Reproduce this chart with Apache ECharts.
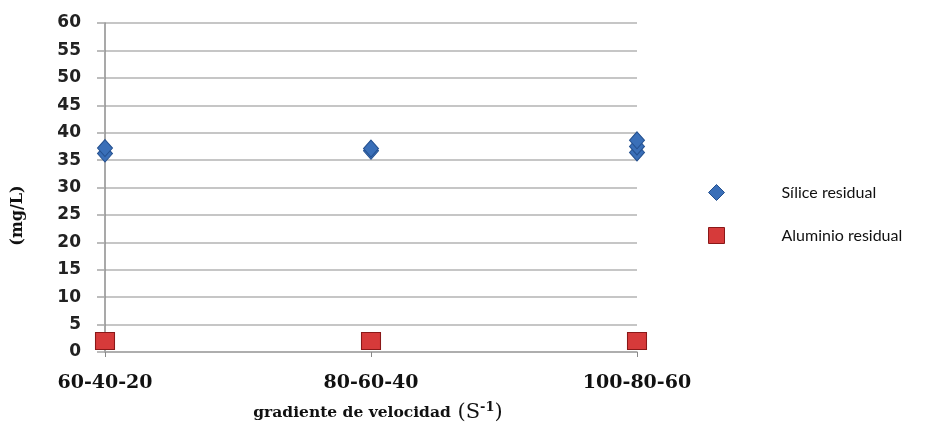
<!DOCTYPE html>
<html>
<head>
<meta charset="utf-8">
<script src="https://cdn.jsdelivr.net/npm/echarts@6/dist/echarts.min.js"></script>
<style>html,body{margin:0;padding:0;background:#fff}#c{width:934px;height:427px}</style>
</head>
<body>
<div id="c"></div>
<script>
var categories = ['60-40-20', '80-60-40', '100-80-60'];
var siliceValues = [[36.2, 37.2], [36.7, 37.1], [36.4, 37.5, 38.6]];
var aluminioValues = [2.0, 2.0, 2.0];
var yTicks = [0, 5, 10, 15, 20, 25, 30, 35, 40, 45, 50, 55, 60];

var siliceData = [];
siliceValues.forEach(function (vals, i) { vals.forEach(function (v) { siliceData.push([i, v]); }); });
var aluData = aluminioValues.map(function (v, i) { return [i, v]; });

var serif = "'DejaVu Serif', serif";
var chart = echarts.init(document.getElementById('c'));
chart.setOption({
  animation: false,
  backgroundColor: '#fff',
  grid: { left: 105, right: 297, top: 23, bottom: 75, containLabel: false, outerBoundsMode: 'none' },
  legend: {
    orient: 'vertical', left: 703, top: 179, itemGap: 26, itemWidth: 16, itemHeight: 16,
    textStyle: { fontFamily: "Lato, 'Open Sans', sans-serif", fontSize: 16, color: '#111', padding: [0, 0, 0, 52] },
    data: [
      { name: 'Sílice residual', icon: 'diamond', itemStyle: { color: '#3a6fb8', borderColor: '#24508f', borderWidth: 1 } },
      { name: 'Aluminio residual', icon: 'rect', itemStyle: { color: '#d63a3a', borderColor: '#8a1818', borderWidth: 1 } }
    ]
  },
  xAxis: {
    type: 'category', data: categories, boundaryGap: false,
    axisLine: { show: true, lineStyle: { color: '#a6a6a6', width: 1.5 } },
    axisTick: { show: true, length: 5, alignWithLabel: true, lineStyle: { color: '#888' } },
    axisLabel: { fontFamily: serif, fontWeight: 'bold', fontSize: 19, color: '#111', margin: 22 },
    splitLine: { show: false },
    name: '{t|gradiente de velocidad}  {p|(S}{s|-1}{p|)}',
    nameLocation: 'middle', nameGap: 49,
    nameTextStyle: {
      padding: [0, 0, 0, 14],
      rich: {
        t: { fontFamily: serif, fontWeight: 'bold', fontSize: 15.5, color: '#111' },
        p: { fontFamily: serif, fontSize: 21, color: '#111' },
        s: { fontFamily: serif, fontWeight: 'bold', fontSize: 13, color: '#111', verticalAlign: 'top', padding: [0, 0, 10, 0] }
      }
    }
  },
  yAxis: {
    type: 'value', min: 0, max: 60, interval: 5,
    axisLine: { show: true, lineStyle: { color: '#8c8c8c', width: 1.5 } },
    axisTick: { show: true, length: 8, inside: false, lineStyle: { color: '#a6a6a6', width: 1.5 } },
    axisLabel: {
      fontFamily: "'DejaVu Sans', Verdana, sans-serif", fontWeight: 'bold', fontSize: 17, color: '#222', margin: 24,
      formatter: function (v) { return yTicks.indexOf(v) >= 0 ? String(v) : ''; }
    },
    splitLine: { show: true, lineStyle: { color: '#b3b3b3', width: 1.5 } },
    name: '(mg/L)', nameLocation: 'middle', nameGap: 79, nameRotate: 90,
    nameTextStyle: { fontFamily: serif, fontWeight: 'bold', fontSize: 16, color: '#111', padding: [0, 0, 0, -56] }
  },
  series: [
    {
      name: 'Sílice residual', type: 'scatter', symbol: 'diamond', symbolSize: [15, 17], data: siliceData,
      itemStyle: { color: '#3a6fb8', borderColor: '#24508f', borderWidth: 1, opacity: 1 }, z: 3
    },
    {
      name: 'Aluminio residual', type: 'scatter', symbol: 'rect', symbolSize: [19, 17], data: aluData,
      itemStyle: { color: '#d63a3a', borderColor: '#8a1818', borderWidth: 1, opacity: 1 }, z: 3
    }
  ]
});
</script>
</body>
</html>
